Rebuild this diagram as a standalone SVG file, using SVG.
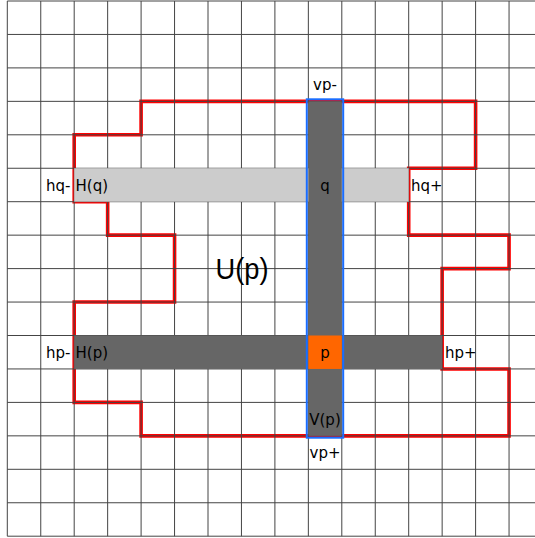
<svg xmlns="http://www.w3.org/2000/svg" width="535" height="538" viewBox="0 0 535 538">
<style>
.grid{stroke:#444;stroke-width:1;fill:none}
.lbl{font-family:"DejaVu Sans",sans-serif;font-size:15px;fill:#000}
.mid{text-anchor:middle}
</style>
<rect x="0" y="0" width="535" height="538" fill="#fff"/>
<g id="region-U">
<polygon points="141.1,101.35 475.6,101.35 475.6,168.25 408.7,168.25 408.7,235.15 509.05,235.15 509.05,268.6 442.15,268.6 442.15,368.95 509.05,368.95 509.05,435.85 141.1,435.85 141.1,402.4 74.2,402.4 74.2,302.05 174.55,302.05 174.55,235.15 107.65,235.15 107.65,201.7 74.2,201.7 74.2,134.8 141.1,134.8" fill="none" stroke="#ff0000" stroke-width="3.6" stroke-linejoin="miter"/>
</g>
<g id="grid" class="grid">
<path d="M7.3,1V536.2M40.75,1V536.2M74.2,1V536.2M107.65,1V536.2M141.1,1V536.2M174.55,1V536.2M208,1V536.2M241.45,1V536.2M274.9,1V536.2M308.35,1V536.2M341.8,1V536.2M375.25,1V536.2M408.7,1V536.2M442.15,1V536.2M475.6,1V536.2M509.05,1V536.2"/>
<path d="M7.3,1H535M7.3,34.45H535M7.3,67.9H535M7.3,101.35H535M7.3,134.8H535M7.3,168.25H535M7.3,201.7H535M7.3,235.15H535M7.3,268.6H535M7.3,302.05H535M7.3,335.5H535M7.3,368.95H535M7.3,402.4H535M7.3,435.85H535M7.3,469.3H535M7.3,502.75H535M7.3,536.2H535"/>
</g>
<g id="Hq">
<rect x="74.2" y="168.25" width="334.5" height="33.45" fill="#cccccc"/>
<text class="lbl" x="46" y="190.5">hq-</text>
<text class="lbl" x="75.5" y="190.5">H(q)</text>
<text class="lbl" x="411" y="190.5">hq+</text>
</g>
<g id="Hp">
<rect x="74.2" y="335.5" width="367.95" height="33.45" fill="#666666"/>
<text class="lbl" x="46" y="357.7">hp-</text>
<text class="lbl" x="75.5" y="357.7">H(p)</text>
<text class="lbl" x="445" y="357.7">hp+</text>
</g>
<g id="Vp">
<rect x="308.35" y="101.35" width="33.45" height="334.5" fill="#666666"/>
<rect x="306.8" y="99.3" width="36.4" height="338.4" fill="none" stroke="#1a6dff" stroke-width="2"/>
<text class="lbl mid" x="325" y="90.2">vp-</text>
<text class="lbl mid" x="325" y="424.7">V(p)</text>
<text class="lbl mid" x="325" y="458.1">vp+</text>
</g>
<g id="q">
<text class="lbl mid" x="325" y="190.5">q</text>
</g>
<g id="p">
<rect x="308.35" y="335.5" width="33.45" height="33.45" fill="#ff6600"/>
<text class="lbl mid" x="325" y="357.7">p</text>
</g>
<g id="Up">
<text x="242" y="279" font-family="'Liberation Sans',Arial,sans-serif" font-size="29" text-anchor="middle" textLength="53" lengthAdjust="spacingAndGlyphs">U(p)</text>
</g>
</svg>
